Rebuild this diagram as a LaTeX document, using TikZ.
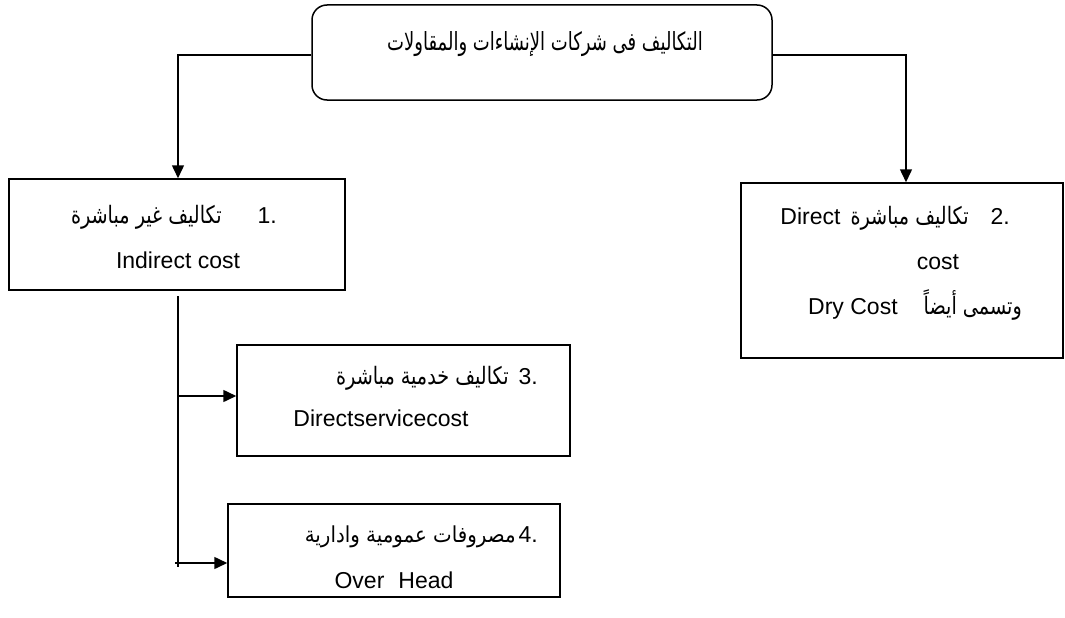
\documentclass[tikz,border=0pt]{standalone}
\usepackage{fontspec}
\setmainfont{Liberation Sans}
\newfontfamily\ar[Script=Arabic,FakeStretch=0.8]{DejaVu Sans}
\newfontfamily\arsm[Script=Arabic,FakeStretch=0.9]{DejaVu Sans}
\newfontfamily\artop[Script=Arabic,FakeStretch=0.72]{DejaVu Sans}
\TeXXeTstate=1
\usetikzlibrary{arrows.meta}
\newcommand{\arb}[1]{{\ar\fontsize{24}{28}\selectfont\beginR #1\endR}}
\begin{document}
\begin{tikzpicture}[x=1pt,y=-1pt,
  box/.style={draw, line width=1.5pt, inner sep=0pt},
  arr/.style={line width=1.5pt, -{Triangle[length=13pt,width=12pt]}},
  ln/.style={line width=1.5pt},
  txt/.style={inner sep=0pt, font=\fontsize{23}{27}\selectfont}]
\useasboundingbox (0,0) rectangle (1065,618);
% boxes
\node[box, rounded corners=15pt, minimum width=460pt, minimum height=95pt] (top) at (542,52.5) {};
\node[box, minimum width=336pt, minimum height=111pt] (b1) at (177,234.5) {};
\node[box, minimum width=322pt, minimum height=175pt] (b2) at (902,270.5) {};
\node[box, minimum width=333pt, minimum height=111pt] (b3) at (403.5,400.5) {};
\node[box, minimum width=332pt, minimum height=93pt] (b4) at (394,550.5) {};
% texts
\node[inner sep=0pt, font=\artop\fontsize{25}{29}\selectfont] (t0) at (545,44) {\beginR التكاليف فى شركات الإنشاءات والمقاولات\endR};
\node[txt, anchor=east] (t1a) at (277,217) {\arb{تكاليف غير مباشرة}\hspace{36pt}1.};
\node[txt] (t1b) at (178,260) {Indirect cost};
\node[txt, anchor=east] (t2a) at (1010,218) {Direct\hspace{10pt}\arb{تكاليف مباشرة}\hspace{22pt}2.};
\node[txt] (t2b) at (938,262) {cost};
\node[txt, anchor=east] (t2c) at (1022,305) {Dry Cost\hspace{26pt}\arb{وتسمى أيضاً}};
\node[txt, anchor=east] (t3a) at (538,378) {\arb{تكاليف خدمية مباشرة}\hspace{10pt}3.};
\node[txt] (t3b) at (381,418) {Directservicecost};
\node[txt, anchor=east] (t4a) at (538,537) {{\arsm\fontsize{22}{26}\selectfont\beginR مصروفات عمومية وادارية\endR}\hspace{3pt}4.};
\node[txt] (t4b) at (394,580) {Over\hspace{14pt}Head};
% connectors
\draw[arr] ([yshift=-2.5pt]top.west) -| ([xshift=1pt]b1.north);
\draw[arr] ([yshift=-2.5pt]top.east) -| ([xshift=4pt]b2.north);
\coordinate (vt) at (178,296);
\coordinate (vb) at (178,567);
\draw[ln] (vt) -- (vb);
\coordinate (a3) at (178,396);
\draw[arr] (a3) -- (a3 -| b3.west);
\coordinate (a4) at (175,563);
\draw[arr] (a4) -- (a4 -| b4.west);
\end{tikzpicture}
\end{document}
